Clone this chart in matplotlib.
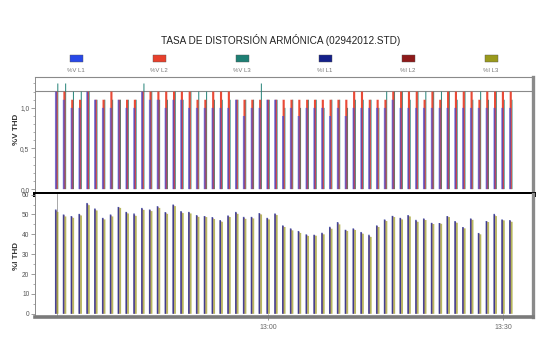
import matplotlib
matplotlib.use("Agg")
import matplotlib.pyplot as plt
from matplotlib.patches import Rectangle
from matplotlib.ticker import FixedLocator, MultipleLocator, FuncFormatter
import numpy as np

plt.rcParams['font.family'] = ['Liberation Sans', 'DejaVu Sans']

# ---- data -------------------------------------------------------------
title = "TASA DE DISTORSIÓN ARMÓNICA (02942012.STD)"
series_names = ["%V L1", "%V L2", "%V L3", "%I L1", "%I L2", "%I L3"]
series_colors = ["#2848e8", "#e8402c", "#1e7f74", "#14208a", "#8e1a1a", "#9a9a1c"]

# minutes after 12:00 (12:33 ... 13:31, one sample per minute)
minutes = list(range(33, 92))

v_l1 = [1.2, 1.1, 1.0, 1.0, 1.2, 1.1, 1.0, 1.0, 1.1, 1.0, 1.0, 1.2, 1.1, 1.1, 1.0,
        1.1, 1.1, 1.0, 1.0, 1.0, 1.0, 1.0, 1.0, 1.1, 0.9, 1.0, 1.0, 1.1, 1.1, 0.9,
        1.0, 0.9, 1.0, 1.0, 1.0, 0.9, 1.0, 0.9, 1.0, 1.0, 1.0, 1.0, 1.0, 1.1, 1.0,
        1.0, 1.0, 1.0, 1.0, 1.0, 1.0, 1.0, 1.0, 1.0, 1.0, 1.0, 1.0, 1.0, 1.0]
v_l2 = [1.2, 1.2, 1.1, 1.1, 1.2, 1.1, 1.1, 1.2, 1.1, 1.1, 1.1, 1.2, 1.2, 1.2, 1.2,
        1.2, 1.2, 1.2, 1.1, 1.1, 1.2, 1.2, 1.2, 1.1, 1.1, 1.1, 1.1, 1.1, 1.1, 1.1,
        1.1, 1.1, 1.1, 1.1, 1.1, 1.1, 1.1, 1.1, 1.2, 1.2, 1.1, 1.1, 1.1, 1.2, 1.2,
        1.2, 1.2, 1.1, 1.2, 1.1, 1.2, 1.2, 1.2, 1.2, 1.1, 1.2, 1.2, 1.2, 1.2]
v_l3 = [1.3, 1.3, 1.2, 1.2, 1.2, 1.1, 1.1, 1.1, 1.1, 1.1, 1.1, 1.3, 1.2, 1.1, 1.1,
        1.2, 1.1, 1.2, 1.2, 1.2, 1.1, 1.1, 1.1, 1.1, 1.1, 1.1, 1.3, 1.1, 1.1, 1.0,
        1.1, 1.0, 1.1, 1.1, 1.0, 1.1, 1.1, 1.0, 1.1, 1.1, 1.1, 1.0, 1.2, 1.2, 1.2,
        1.1, 1.2, 1.2, 1.2, 1.2, 1.2, 1.1, 1.2, 1.1, 1.2, 1.1, 1.2, 1.1, 1.1]

i_l1 = [52.5, 50.0, 49.2, 50.3, 55.8, 53.0, 48.3, 50.0, 53.8, 51.3, 50.5, 53.3, 52.5,
        54.2, 51.2, 55.0, 51.7, 51.3, 49.7, 49.2, 48.7, 47.2, 49.5, 51.3, 48.8, 48.8,
        50.7, 48.3, 50.5, 44.5, 43.0, 41.7, 40.0, 39.8, 40.8, 43.8, 46.2, 42.3, 43.0,
        41.2, 39.8, 44.5, 47.5, 49.3, 48.3, 49.7, 47.3, 48.0, 45.8, 45.7, 49.2, 46.7,
        43.7, 48.0, 40.7, 46.7, 50.3, 47.5, 47.2]
i_l2 = [52.0, 49.6, 48.8, 49.9, 55.3, 52.5, 47.9, 49.5, 53.5, 50.9, 49.9, 52.8, 52.1,
        53.7, 50.8, 54.6, 51.2, 50.9, 49.2, 48.9, 48.2, 46.7, 49.1, 50.8, 48.3, 48.4,
        50.3, 47.9, 50.1, 44.1, 42.5, 41.2, 39.6, 39.5, 40.4, 43.3, 45.6, 42.0, 42.6,
        40.7, 39.2, 44.1, 47.1, 49.0, 47.9, 49.3, 46.8, 47.6, 45.5, 45.5, 48.9, 46.2,
        43.3, 47.6, 40.3, 46.4, 49.7, 47.2, 46.7]
i_l3 = [51.3, 49.0, 48.3, 49.5, 54.7, 52.0, 47.5, 49.0, 53.3, 50.5, 49.3, 52.3, 51.7,
        53.3, 50.3, 54.2, 50.7, 50.5, 48.8, 48.7, 47.7, 46.3, 48.7, 50.3, 47.8, 48.0,
        50.0, 47.5, 49.7, 43.7, 42.0, 40.7, 39.2, 39.3, 40.0, 42.8, 45.0, 41.7, 42.2,
        40.3, 38.7, 43.7, 46.7, 48.7, 47.5, 49.0, 46.3, 47.2, 45.2, 45.3, 48.7, 45.8,
        43.0, 47.3, 40.0, 46.2, 49.2, 47.0, 46.3]

x_ticks = [60, 90]
x_ticklabels = ["13:00", "13:30"]
v_limit = 1.21

# ---- layout -----------------------------------------------------------
W, H = 552, 346
fig = plt.figure(figsize=(W / 100, H / 100), dpi=100)
fig.patch.set_facecolor("white")

def fx(px):
    return px / W

def fy(py):
    return 1 - py / H

L, R, T, M, B = 35, 533, 77, 194, 317
ax1 = fig.add_axes([fx(L), fy(M), fx(R - L), (M - T) / H])
ax2 = fig.add_axes([fx(L), fy(B), fx(R - L), (B - M) / H])

x = np.array(minutes, dtype=float)
w = 0.17
xlim = (30.25, 93.85)

# upper panel: voltage THD (L3 behind, L2, then L1 overlapping in front)
ax1.bar(x + 0.95 * w, v_l3, width=0.8 * w, color=series_colors[2], linewidth=0,
        snap=False, alpha=0.9, zorder=2)
ax1.bar(x + 0.05 * w, v_l2, width=1.6 * w, color=series_colors[1], linewidth=0,
        snap=False, alpha=0.95, zorder=3)
ax1.bar(x - 0.45 * w, v_l1, width=1.5 * w, color=series_colors[0], linewidth=0,
        snap=False, alpha=0.6, zorder=4)
ax1.axhline(v_limit, color="#8a8a8a", lw=0.8, zorder=1)
ax1.set_xlim(*xlim)
ax1.set_ylim(-0.06, 1.38)
ax1.set_xticks([])
ax1.yaxis.set_major_locator(FixedLocator([0.0, 0.5, 1.0]))
ax1.yaxis.set_minor_locator(MultipleLocator(0.1))
ax1.yaxis.set_major_formatter(FuncFormatter(lambda v, p: f"{v:.1f}".replace(".", ",")))

# lower panel: current THD
ax2.bar(x - 0.3 * w, i_l2, width=1.2 * w, color=series_colors[4], linewidth=0,
        snap=False, alpha=0.5, zorder=2)
ax2.bar(x - 0.6 * w, i_l1, width=1.2 * w, color=series_colors[3], linewidth=0,
        snap=False, alpha=0.75, zorder=3)
ax2.bar(x + 0.8 * w, i_l3, width=1.3 * w, color=series_colors[5], linewidth=0,
        snap=False, alpha=0.7, zorder=3)
ax2.axvline(x[0], color="#9a9a9a", lw=0.6, zorder=1)
ax2.set_xlim(*xlim)
ax2.set_ylim(-1.6, 60.3)
ax2.yaxis.set_major_locator(FixedLocator([0, 10, 20, 30, 40, 50, 60]))
ax2.yaxis.set_minor_locator(MultipleLocator(5))
ax2.set_xticks(x_ticks)
ax2.set_xticklabels(x_ticklabels)

for ax in (ax1, ax2):
    ax.set_facecolor("white")
    ax.spines["left"].set_color("#8c8c8c")
    ax.spines["left"].set_linewidth(0.7)
    ax.spines["right"].set_color("#8a8a8a")
    ax.spines["right"].set_linewidth(2.4)
    ax.tick_params(axis="y", which="major", length=3, width=0.6, color="#8c8c8c",
                   labelsize=4.8, labelcolor="#555555", pad=1)
    ax.tick_params(axis="y", which="minor", length=1.8, width=0.5, color="#8c8c8c")
ax1.spines["top"].set_color("#8a8a8a")
ax1.spines["top"].set_linewidth(0.8)
ax1.spines["bottom"].set_color("black")
ax1.spines["bottom"].set_linewidth(3.6)
ax1.spines["bottom"].set_zorder(5)
ax2.spines["top"].set_visible(False)
ax2.spines["bottom"].set_color("#7a7a7a")
ax2.spines["bottom"].set_linewidth(2.6)
ax2.tick_params(axis="x", length=4, width=0.6, color="#8a8a8a", direction="inout",
                labelsize=5, labelcolor="#666666", pad=3)

ax1.set_ylabel("%V THD", fontsize=5.8, fontweight="bold", color="#333333")
ax2.set_ylabel("%I THD", fontsize=5.8, fontweight="bold", color="#333333")
ax1.yaxis.set_label_coords(-0.031, 0.55)
ax2.yaxis.set_label_coords(-0.031, 0.5)

# title
fig.text(fx(281), fy(40), title, ha="center", va="center", fontsize=7.2, color="#222222")

# legend: colored box above each label
centers = [76, 159, 242, 325, 408, 491]
for cx, name, col in zip(centers, series_names, series_colors):
    fig.patches.append(Rectangle((fx(cx - 6.5), fy(62)), fx(13), 7 / H,
                                 transform=fig.transFigure, facecolor=col,
                                 edgecolor="#555555", linewidth=0.3))
    fig.text(fx(cx), fy(70), name, ha="center", va="center", fontsize=4.3, color="#777777")

fig.savefig("out.png", dpi=100, facecolor="white")
